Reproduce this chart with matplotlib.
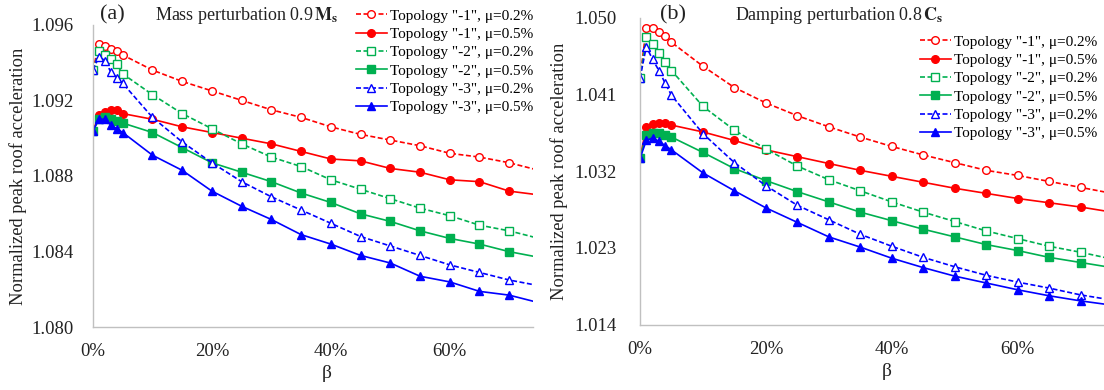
import matplotlib
matplotlib.use("Agg")
import matplotlib.pyplot as plt
from matplotlib.ticker import PercentFormatter, FormatStrFormatter

plt.rcParams['font.family'] = ['Liberation Serif', 'DejaVu Serif']
plt.rcParams['mathtext.fontset'] = 'stix'

beta = [0, 0.01, 0.02, 0.03, 0.04, 0.05, 0.10, 0.15, 0.20, 0.25, 0.30,
        0.35, 0.40, 0.45, 0.50, 0.55, 0.60, 0.65, 0.70, 0.75]

# (a) mass perturbation 0.9 Ms
m_t1_02 = [1.0936, 1.0950, 1.0949, 1.0947, 1.0946, 1.0944, 1.0936, 1.0930, 1.0925, 1.0920, 1.0915,
           1.0911, 1.0906, 1.0902, 1.0899, 1.0896, 1.0892, 1.0890, 1.0887, 1.0883]
m_t1_05 = [1.0904, 1.0912, 1.0914, 1.0915, 1.0915, 1.0913, 1.0910, 1.0906, 1.0903, 1.0900, 1.0897,
           1.0893, 1.0889, 1.0888, 1.0884, 1.0882, 1.0878, 1.0877, 1.0872, 1.0870]
m_t2_02 = [1.0936, 1.0946, 1.0944, 1.0942, 1.0939, 1.0934, 1.0923, 1.0913, 1.0905, 1.0897, 1.0890,
           1.0885, 1.0878, 1.0873, 1.0868, 1.0863, 1.0859, 1.0854, 1.0851, 1.0847]
m_t2_05 = [1.0904, 1.0910, 1.0911, 1.0910, 1.0909, 1.0908, 1.0903, 1.0895, 1.0887, 1.0882, 1.0877,
           1.0871, 1.0866, 1.0860, 1.0856, 1.0851, 1.0847, 1.0844, 1.0840, 1.0837]
m_t3_02 = [1.0936, 1.0943, 1.0941, 1.0935, 1.0932, 1.0929, 1.0911, 1.0898, 1.0887, 1.0877, 1.0869,
           1.0862, 1.0855, 1.0848, 1.0843, 1.0838, 1.0833, 1.0829, 1.0825, 1.0822]
m_t3_05 = [1.0904, 1.0910, 1.0910, 1.0907, 1.0905, 1.0903, 1.0891, 1.0883, 1.0872, 1.0864, 1.0857,
           1.0849, 1.0844, 1.0838, 1.0834, 1.0827, 1.0824, 1.0819, 1.0817, 1.0813]

# (b) damping perturbation 0.8 Cs
c_t1_02 = [1.0429, 1.0488, 1.0488, 1.0483, 1.0479, 1.0471, 1.0443, 1.0418, 1.0400, 1.0385, 1.0372,
           1.0360, 1.0349, 1.0339, 1.0330, 1.0321, 1.0315, 1.0308, 1.0301, 1.0294]
c_t1_05 = [1.0335, 1.0372, 1.0375, 1.0376, 1.0376, 1.0374, 1.0366, 1.0356, 1.0345, 1.0337, 1.0329,
           1.0321, 1.0314, 1.0307, 1.0300, 1.0294, 1.0288, 1.0283, 1.0278, 1.0272]
c_t2_02 = [1.0429, 1.0477, 1.0469, 1.0459, 1.0448, 1.0438, 1.0396, 1.0368, 1.0346, 1.0326, 1.0310,
           1.0297, 1.0284, 1.0272, 1.0261, 1.0250, 1.0241, 1.0232, 1.0225, 1.0217]
c_t2_05 = [1.0335, 1.0363, 1.0365, 1.0365, 1.0363, 1.0360, 1.0342, 1.0323, 1.0309, 1.0296, 1.0284,
           1.0272, 1.0262, 1.0252, 1.0243, 1.0234, 1.0227, 1.0219, 1.0213, 1.0207]
c_t3_02 = [1.0429, 1.0466, 1.0451, 1.0438, 1.0423, 1.0409, 1.0364, 1.0330, 1.0303, 1.0280, 1.0263,
           1.0246, 1.0232, 1.0219, 1.0208, 1.0198, 1.0190, 1.0183, 1.0175, 1.0169]
c_t3_05 = [1.0335, 1.0356, 1.0359, 1.0355, 1.0350, 1.0345, 1.0318, 1.0297, 1.0277, 1.0260, 1.0243,
           1.0231, 1.0218, 1.0207, 1.0197, 1.0189, 1.0181, 1.0174, 1.0168, 1.0163]

labels = ['Topology "-1", \u03bc=0.2%', 'Topology "-1", \u03bc=0.5%',
          'Topology "-2", \u03bc=0.2%', 'Topology "-2", \u03bc=0.5%',
          'Topology "-3", \u03bc=0.2%', 'Topology "-3", \u03bc=0.5%']
colors = ['#ff0000', '#ff0000', '#00b050', '#00b050', '#0000ff', '#0000ff']
markers = ['o', 'o', 's', 's', '^', '^']
dashed = [True, False, True, False, True, False]

W, H = 1104, 390
fig = plt.figure(figsize=(W / 100, H / 100), dpi=100)


def px_axes(x0, x1, ytop, ybot):
    return fig.add_axes([x0 / W, (H - ybot) / H, (x1 - x0) / W, (ybot - ytop) / H])


ax1 = px_axes(93, 533, 24.7, 327.3)
ax2 = px_axes(640, 1104, 17.6, 324.8)

panels = [
    (ax1, [m_t1_02, m_t1_05, m_t2_02, m_t2_05, m_t3_02, m_t3_05],
     (1.080, 1.096), [1.080, 1.084, 1.088, 1.092, 1.096], 0.74, 13.7, -0.150,
     (353, 6)),
    (ax2, [c_t1_02, c_t1_05, c_t2_02, c_t2_05, c_t3_02, c_t3_05],
     (1.014, 1.050), [1.014, 1.023, 1.032, 1.041, 1.050], 0.737, 16.6, -0.155,
     (917, 32)),
]

for ax, series, ylim, yticks, xmax, ypad, ylab_x, leg_pos in panels:
    for vals, lab, c, m, d in zip(series, labels, colors, markers, dashed):
        ax.plot(beta, vals, color=c, marker=m, markersize=5.5, linewidth=1.2,
                linestyle=(0, (3, 1.5)) if d else '-',
                markerfacecolor='white' if d else c, markeredgecolor=c,
                markeredgewidth=1.0, label=lab)
    ax.set_xlim(0, xmax)
    ax.set_ylim(*ylim)
    ax.set_yticks(yticks)
    ax.set_xticks([0, 0.2, 0.4, 0.6])
    ax.yaxis.set_major_formatter(FormatStrFormatter('%.3f'))
    ax.xaxis.set_major_formatter(PercentFormatter(xmax=1, decimals=0))
    for s in ['top', 'right']:
        ax.spines[s].set_visible(False)
    for s in ['left', 'bottom']:
        ax.spines[s].set_color('#c0c0c0')
        ax.spines[s].set_linewidth(1.0)
    ax.tick_params(axis='y', length=0, pad=ypad, labelsize=13.5, labelcolor='#222222')
    ax.tick_params(axis='x', length=0, pad=11.5, labelsize=13.5, labelcolor='#222222')
    ax.set_xlabel('\u03b2', fontsize=14, color='#222222')
    ax.xaxis.set_label_coords(0.532, -0.125)
    ax.set_ylabel('Normalized peak roof acceleration', fontsize=13.3, color='#222222')
    ax.yaxis.set_label_coords(ylab_x, 0.5)
    leg = ax.legend(loc='upper left', bbox_to_anchor=(leg_pos[0] / W, 1 - leg_pos[1] / H),
                    bbox_transform=fig.transFigure, borderaxespad=0, fontsize=11,
                    labelspacing=0.3, handlelength=2.0, handletextpad=0.2,
                    borderpad=0.2, frameon=True, fancybox=False, framealpha=1)
    leg.get_frame().set_edgecolor('none')

fig.text(100 / W, 1 - 15 / H, '(a)', fontsize=16, va='center', ha='left', color='#222222')
fig.text(155 / W, 1 - 15 / H, 'Mass perturbation 0.9$\\,\\mathbf{M}_\\mathbf{s}$',
         fontsize=13, va='center', ha='left', color='#222222')
fig.text(660 / W, 1 - 15 / H, '(b)', fontsize=16, va='center', ha='left', color='#222222')
fig.text(735 / W, 1 - 15 / H, 'Damping perturbation 0.8$\\,\\mathbf{C}_\\mathbf{s}$',
         fontsize=13, va='center', ha='left', color='#222222')

fig.savefig('out.png', dpi=100)
